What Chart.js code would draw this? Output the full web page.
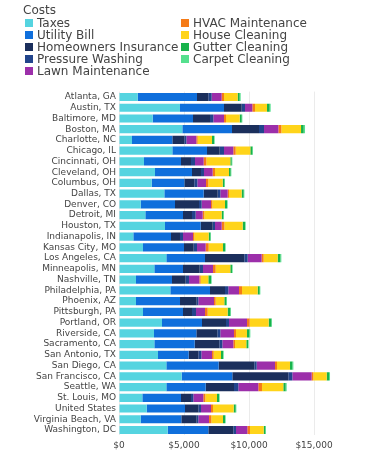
<!DOCTYPE html>
<html>
<head>
<meta charset="utf-8">
<script src="https://cdn.jsdelivr.net/npm/chart.js@4/dist/chart.umd.min.js"></script>
<style>
  html, body { margin: 0; padding: 0; background: #fff; }
  #wrap { position: relative; width: 386px; height: 456px; }
  #legend { position: absolute; left: 0; top: 0; width: 386px; height: 90px; font-family: "DejaVu Sans", sans-serif; font-size: 12px; color: #444; }
  #legend .title { position: absolute; left: 23px; top: 4px; line-height: 12px; }
  #legend .item { position: absolute; line-height: 12px; white-space: nowrap; }
  #legend .sw { position: absolute; width: 8px; height: 8px; left: 0; top: 2px; }
  #legend .tx { position: absolute; left: 12px; top: 0; }
</style>
</head>
<body>
<div id="wrap">
  <canvas id="c" width="386" height="456"></canvas>
  <div id="legend"><div class="title">Costs</div></div>
</div>
<script>
const categories = ["Atlanta, GA","Austin, TX","Baltimore, MD","Boston, MA","Charlotte, NC","Chicago, IL","Cincinnati, OH","Cleveland, OH","Columbus, OH","Dallas, TX","Denver, CO","Detroit, MI","Houston, TX","Indianapolis, IN","Kansas City, MO","Los Angeles, CA","Minneapolis, MN","Nashville, TN","Philadelphia, PA","Phoenix, AZ","Pittsburgh, PA","Portland, OR","Riverside, CA","Sacramento, CA","San Antonio, TX","San Diego, CA","San Francisco, CA","Seattle, WA","St. Louis, MO","United States","Virginia Beach, VA","Washington, DC"];

const taxes = [1436,4692,2590,4872,1000,4103,1923,2769,2513,3487,1667,2026,3538,1103,1846,3641,2718,1308,3949,1308,1846,3308,2692,2718,3000,3641,4821,3641,1795,2128,1667,3744];
const utilityBill = [4564,3385,3103,3821,3103,2667,2846,2846,2513,3026,2641,2897,2744,2897,3154,2974,2205,2769,3051,3385,3077,3077,3256,3103,2359,4026,3897,3026,2974,2949,3128,3128];
const homeownersInsurance = [872,1359,1308,2077,923,974,769,692,769,1077,1846,692,923,692,744,3026,1282,1051,1154,1282,692,1846,1615,1897,744,2744,4308,2179,769,1026,1179,1923];
const pressureWashing = [256,256,256,385,154,333,308,231,231,205,205,282,180,231,256,256,256,256,256,128,308,231,231,231,231,180,308,333,180,205,128,205];
const lawnMaintenance = [769,564,821,1103,769,718,667,667,667,564,718,538,513,769,667,1077,769,795,821,1205,692,1385,1051,846,821,1410,1487,1538,769,769,821,872];
const hvacMaintenance = [180,205,154,231,103,180,205,180,180,103,103,128,205,103,231,154,205,103,231,128,205,205,154,128,128,154,128,282,154,154,180,205];
const houseCleaning = [1051,923,1051,1513,1103,1128,1846,1077,1103,974,974,1333,1410,1103,1103,1077,1128,590,1205,667,1538,1462,846,872,564,1000,1026,1641,897,1590,897,1051];
const gutterCleaning = [154,205,154,205,154,154,103,128,128,154,154,128,180,128,154,205,128,205,154,154,205,205,180,128,154,180,180,180,154,154,154,128];
const carpetCleaning = [77,77,51,103,51,51,51,51,51,51,51,51,51,51,51,77,51,51,51,51,51,51,77,51,51,77,77,77,51,51,51,51];

const xTickValues = [0, 5000, 10000, 15000];
const xMax = 16600;

const seriesNames = ["Taxes","Utility Bill","Homeowners Insurance","Pressure Washing","Lawn Maintenance","HVAC Maintenance","House Cleaning","Gutter Cleaning","Carpet Cleaning"];
const seriesData = [taxes, utilityBill, homeownersInsurance, pressureWashing, lawnMaintenance, hvacMaintenance, houseCleaning, gutterCleaning, carpetCleaning];
const seriesColors = ["#55d4e0","#0f6fdc","#1b2f5c","#22458c","#9c2faa","#f57b17","#ffd41a","#17b34b","#55e08e"];

const datasets = seriesNames.map((n, i) => ({
  label: n,
  data: seriesData[i],
  backgroundColor: seriesColors[i],
  borderWidth: 0,
  barPercentage: 0.76,
  categoryPercentage: 1.0
}));

const chart = new Chart(document.getElementById('c'), {
  type: 'bar',
  data: { labels: categories, datasets },
  options: {
    indexAxis: 'y',
    responsive: false,
    animation: false,
    layout: { padding: { top: 91.6, right: 51.2, bottom: 0, left: 0 } },
    plugins: { legend: { display: false }, tooltip: { enabled: false } },
    scales: {
      x: {
        stacked: true,
        min: 0,
        max: xMax,
        afterFit: s => { s.height = 20.6; },
        afterBuildTicks: s => { s.ticks = xTickValues.map(v => ({ value: v })); },
        grid: { color: '#ebebeb', drawTicks: false, lineWidth: 1 },
        border: { display: false },
        ticks: {
          padding: 5,
          color: '#444',
          font: { family: 'DejaVu Sans', size: 9 },
          callback: v => '$' + Number(v).toLocaleString('en-US')
        }
      },
      y: {
        stacked: true,
        afterFit: s => { s.width = 119; },
        grid: { display: false, drawTicks: false },
        border: { display: false },
        ticks: {
          padding: 3,
          autoSkip: false,
          color: '#444',
          font: { family: 'DejaVu Sans', size: 9 }
        }
      }
    }
  }
});

// HTML legend built from the chart datasets
const leg = document.getElementById('legend');
chart.data.datasets.forEach((ds, i) => {
  const col = i < 5 ? 0 : 1;
  const row = i % 5;
  const item = document.createElement('div');
  item.className = 'item';
  item.style.left = (col === 0 ? 25 : 181) + 'px';
  item.style.top = (16.5 + row * 12) + 'px';
  const sw = document.createElement('span');
  sw.className = 'sw';
  sw.style.background = ds.backgroundColor;
  const tx = document.createElement('span');
  tx.className = 'tx';
  tx.textContent = ds.label;
  item.appendChild(sw);
  item.appendChild(tx);
  leg.appendChild(item);
});
</script>
</body>
</html>
